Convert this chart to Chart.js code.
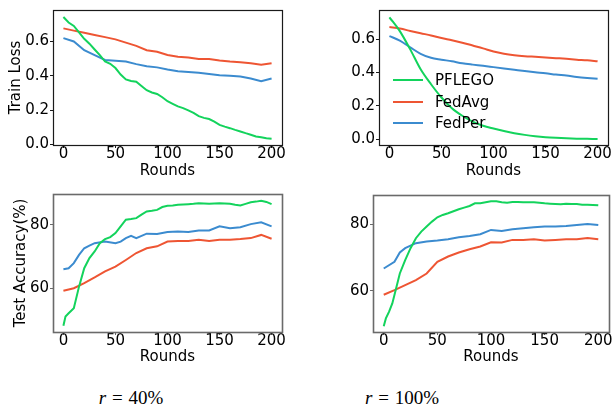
<!DOCTYPE html>
<html><head><meta charset="utf-8">
<script src="https://cdn.jsdelivr.net/npm/chart.js@4.4.0/dist/chart.umd.min.js"></script>
<style>
html,body{margin:0;padding:0;background:#fff;width:613px;height:406px;overflow:hidden;position:relative;}
canvas{position:absolute;}
.cap{position:absolute;font-family:"Liberation Serif","DejaVu Serif",serif;font-size:19px;color:#000;transform:translate(-50%,-50%);white-space:nowrap;line-height:1;word-spacing:1px;}
.leg{position:absolute;font-family:"DejaVu Sans",sans-serif;font-size:15px;color:#000;line-height:1;transform:translateY(-50%);white-space:nowrap;}
.hdl{position:absolute;height:2px;width:30px;transform:translateY(-50%);}
</style></head><body>
<canvas id="tl" width="300" height="180" style="left:0;top:0"></canvas>
<canvas id="tr" width="313" height="180" style="left:300px;top:0"></canvas>
<canvas id="bl" width="300" height="190" style="left:0;top:180px"></canvas>
<canvas id="br" width="313" height="190" style="left:300px;top:180px"></canvas>

<div class="hdl" style="left:393px;top:80px;background:#13d35c"></div>
<div class="leg" style="left:435px;top:80px">PFLEGO</div>
<div class="hdl" style="left:393px;top:101.5px;background:#ee5533"></div>
<div class="leg" style="left:435px;top:101.5px">FedAvg</div>
<div class="hdl" style="left:393px;top:123px;background:#3b8bcf"></div>
<div class="leg" style="left:435px;top:123px">FedPer</div>

<div class="cap" style="left:131px;top:397px"><i>r</i> = 40%</div>
<div class="cap" style="left:402px;top:397px"><i>r</i> = 100%</div>

<script>
// ---------- data ----------
const seriesNames = ['PFLEGO', 'FedAvg', 'FedPer'];
const xTicks = [0, 50, 100, 150, 200];
const lossTicks = [0.0, 0.2, 0.4, 0.6];
const accTicks = [60, 80];

const rounds5 = [0,5,10,15,20,25,30,35,40,45,50,55,60,65,70,75,80,85,90,95,100,105,110,115,120,125,130,135,140,145,150,155,160,165,170,175,180,185,190,195,200];
const rounds10 = [0,10,20,30,40,50,60,70,80,90,100,110,120,130,140,150,160,170,180,190,200];

// Train loss, r = 40%
const lossR40PFLEGO = [0.742,0.71,0.69,0.653,0.615,0.587,0.553,0.52,0.483,0.47,0.445,0.407,0.379,0.37,0.365,0.34,0.316,0.303,0.294,0.275,0.252,0.237,0.222,0.212,0.199,0.184,0.165,0.155,0.148,0.133,0.114,0.104,0.095,0.085,0.076,0.066,0.057,0.047,0.042,0.036,0.034];
const lossR40FedAvg = [0.676,0.663,0.65,0.638,0.625,0.612,0.593,0.574,0.549,0.54,0.521,0.511,0.506,0.498,0.498,0.489,0.483,0.479,0.473,0.464,0.473];
const lossR40FedPer = [0.619,0.6,0.549,0.52,0.492,0.487,0.483,0.468,0.455,0.449,0.436,0.426,0.422,0.417,0.411,0.403,0.4,0.396,0.384,0.369,0.384];

// Train loss, r = 100%
const lossR100PFLEGO = [0.733,0.65,0.54,0.42,0.33,0.25,0.185,0.14,0.105,0.08,0.063,0.048,0.035,0.025,0.017,0.011,0.007,0.004,0.002,0.001,0.0];
const lossR100FedAvg = [0.674,0.665,0.651,0.637,0.624,0.608,0.595,0.58,0.563,0.546,0.527,0.514,0.505,0.499,0.495,0.491,0.487,0.483,0.478,0.474,0.468];
const lossR100FedPer = [0.62,0.593,0.552,0.513,0.489,0.478,0.468,0.456,0.448,0.441,0.433,0.425,0.417,0.409,0.402,0.396,0.388,0.382,0.374,0.368,0.363];

// Test accuracy, r = 40%
const accR40Rounds = [0,2,5,10,15,20,25,30,35,40,45,50,55,60,65,70,75,80,85,90,95,100,105,110,115,120,125,130,135,140,145,150,155,160,165,170,175,180,185,190,195,200];
const accR40PFLEGO = [48.2,51.1,52.1,53.7,60.5,66.3,69.5,71.6,74.2,75.5,76.1,77.4,79.5,81.6,81.8,82.1,83.2,84.2,84.4,84.7,85.6,86.0,86.1,86.3,86.4,86.5,86.6,86.8,86.7,86.6,86.7,86.8,86.7,86.6,86.3,86.1,86.6,87.1,87.3,87.6,87.2,86.5];
const accR40FedAvg = [59.2,60.0,61.6,63.4,65.3,66.8,68.9,71.1,72.6,73.2,74.7,74.9,74.9,75.3,74.9,75.3,75.3,75.5,75.8,76.8,75.6];
const accR40FedPerRounds = [0,5,10,15,20,25,30,40,50,55,60,65,70,80,90,100,110,120,130,140,150,160,170,180,190,200];
const accR40FedPer = [66.0,66.3,67.9,70.5,72.6,73.4,74.2,74.7,74.2,74.7,75.8,76.5,75.8,77.2,77.1,77.7,77.9,77.7,78.2,78.2,79.5,78.9,79.2,80.2,80.8,79.5];

// Test accuracy, r = 100%
const accR100Rounds = [0,2,5,8,10,15,20,25,30,35,40,45,50,55,60,65,70,75,80,85,90,95,100,105,110,115,120,125,130,135,140,145,150,155,160,165,170,175,180,185,190,195,200];
const accR100PFLEGO = [49.3,51.7,53.7,56.2,58.7,65.2,69.2,72.8,75.8,77.8,79.3,80.8,82.1,82.8,83.3,83.9,84.5,85.0,85.5,86.3,86.3,86.6,86.9,86.9,86.6,86.5,86.7,86.7,86.6,86.6,86.6,86.5,86.3,86.2,86.1,86.0,86.2,86.1,86.1,85.9,85.9,85.8,85.7];
const accR100FedAvg = [58.8,60.2,61.7,63.2,65.2,68.7,70.3,71.5,72.5,73.3,74.6,74.5,75.3,75.3,75.5,75.1,75.3,75.5,75.5,75.9,75.5];
const accR100FedPerRounds = [0,10,15,20,30,40,50,60,70,80,90,100,110,120,130,140,150,160,170,180,190,200];
const accR100FedPer = [66.7,68.7,71.5,72.8,74.3,74.8,75.1,75.5,76.1,76.5,77.0,78.3,78.0,78.5,78.8,79.1,79.3,79.3,79.5,79.8,80.1,79.8];

// ---------- styling ----------
const colors = ['#13d35c', '#ee5533', '#3b8bcf'];
const FONT = 'DejaVu Sans';

function pts(xs, ys) { return xs.map((x, i) => ({ x: x, y: ys[i] })); }

const framePlugin = {
  id: 'frame',
  afterDraw(chart, args, opts) {
    const a = chart.chartArea, ctx = chart.ctx;
    ctx.save();
    ctx.strokeStyle = opts.color;
    ctx.lineWidth = opts.width;
    ctx.strokeRect(Math.round(a.left) + 0.5, Math.round(a.top) + 0.5,
                   Math.round(a.right - a.left), Math.round(a.bottom - a.top));
    ctx.restore();
  }
};

function panel(id, w, h, area, series, yMin, yMax, yTicks, yDec, yTitle, yTitlePad, xTitlePad, frame, smooth) {
  new Chart(document.getElementById(id), {
    type: 'line',
    data: {
      datasets: series.map((s, i) => ({
        label: seriesNames[i],
        data: pts(s[0], s[1]),
        borderColor: colors[i],
        backgroundColor: colors[i],
        borderWidth: 2,
        pointRadius: 0,
        fill: false,
        tension: smooth ? 0.4 : 0,
        cubicInterpolationMode: smooth ? 'monotone' : 'default'
      }))
    },
    options: {
      responsive: false, animation: false, devicePixelRatio: 1,
      layout: { padding: { left: 0, top: area.top, right: w - area.right, bottom: 0 } },
      plugins: { legend: { display: false }, tooltip: { enabled: false }, frame: frame },
      scales: {
        x: {
          type: 'linear', min: -10, max: 210, position: 'bottom',
          afterBuildTicks: s => { s.ticks = xTicks.map(v => ({ value: v })); },
          afterFit: s => { s.height = h - area.bottom; },
          grid: { drawOnChartArea: false, drawTicks: true, tickLength: 3, tickColor: frame.color, lineWidth: 1 },
          border: { display: false },
          ticks: { color: '#000', font: { family: FONT, size: 15 }, padding: -2.5, maxRotation: 0, autoSkip: false,
                   callback: v => String(v) },
          title: { display: true, text: 'Rounds', color: '#000', font: { family: FONT, size: 15 },
                   padding: { top: 0, bottom: xTitlePad } }
        },
        y: {
          type: 'linear', min: yMin, max: yMax, position: 'left',
          afterBuildTicks: s => { s.ticks = yTicks.map(v => ({ value: v })); },
          afterFit: s => { s.width = area.left; },
          grid: { drawOnChartArea: false, drawTicks: true, tickLength: 3, tickColor: frame.color, lineWidth: 1 },
          border: { display: false },
          ticks: { color: '#000', font: { family: FONT, size: 15 }, padding: 1,
                   callback: v => Number(v).toFixed(yDec) },
          title: { display: !!yTitle, text: yTitle || '', color: '#000', font: { family: FONT, size: 15 },
                   padding: { top: yTitlePad, bottom: 0 } }
        }
      }
    },
    plugins: [framePlugin]
  });
}

const topFrame = { color: '#1a1a1a', width: 1.2 };
const botFrame = { color: '#6a6a6a', width: 1.6 };

panel('tl', 300, 180, { left: 53, top: 7, right: 282, bottom: 145 },
  [[rounds5, lossR40PFLEGO], [rounds10, lossR40FedAvg], [rounds10, lossR40FedPer]],
  -0.003, 0.783, lossTicks, 1, 'Train Loss', 7, 0, topFrame, false);

panel('tr', 313, 180, { left: 79, top: 7, right: 308, bottom: 145 },
  [[rounds10, lossR100PFLEGO], [rounds10, lossR100FedAvg], [rounds10, lossR100FedPer]],
  -0.036, 0.777, lossTicks, 1, '', 0, 0, topFrame, true);

panel('bl', 300, 190, { left: 53, top: 14, right: 282, bottom: 152 },
  [[accR40Rounds, accR40PFLEGO], [rounds10, accR40FedAvg], [accR40FedPerRounds, accR40FedPer]],
  46.2, 89.7, accTicks, 0, 'Test Accuracy(%)', 12, 3.6, botFrame, false);

panel('br', 313, 190, { left: 73, top: 15, right: 309, bottom: 152 },
  [[accR100Rounds, accR100PFLEGO], [rounds10, accR100FedAvg], [accR100FedPerRounds, accR100FedPer]],
  47.6, 88.8, accTicks, 0, '', 0, 3.6, botFrame, false);
</script>
</body></html>
